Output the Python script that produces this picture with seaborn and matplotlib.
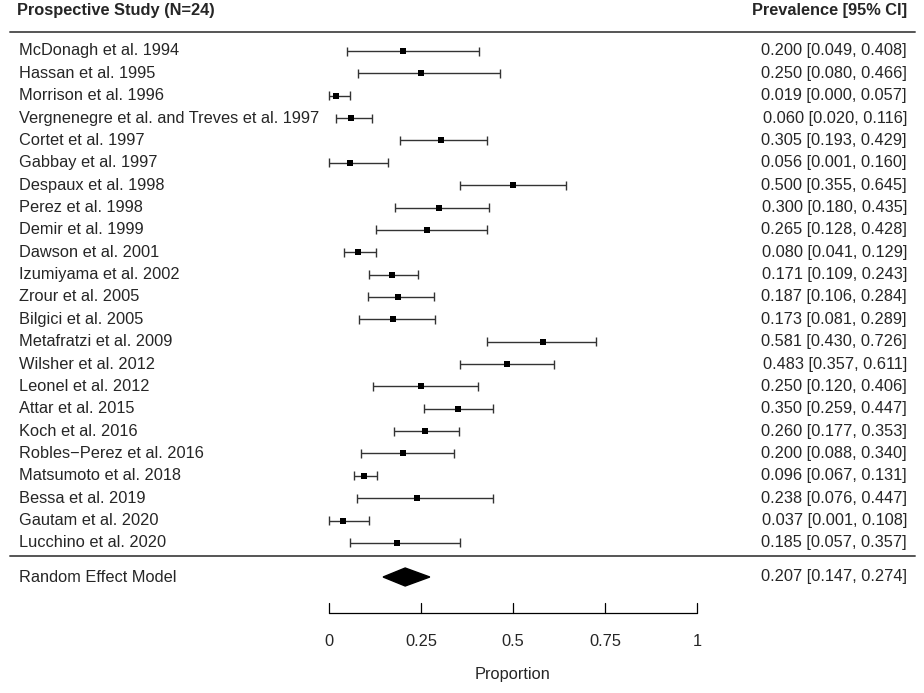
"""Forest plot of prevalence estimates from prospective studies."""

import matplotlib
matplotlib.use("Agg")
import matplotlib.pyplot as plt
import numpy as np
import pandas as pd
import seaborn as sns

studies = [
    "McDonagh et al. 1994", "Hassan et al. 1995", "Morrison et al. 1996",
    "Vergnenegre et al. and Treves et al. 1997", "Cortet et al. 1997",
    "Gabbay et al. 1997", "Despaux et al. 1998", "Perez et al. 1998",
    "Demir et al. 1999", "Dawson et al. 2001", "Izumiyama et al. 2002",
    "Zrour et al. 2005", "Bilgici et al. 2005", "Metafratzi et al. 2009",
    "Wilsher et al. 2012", "Leonel et al. 2012", "Attar et al. 2015",
    "Koch et al. 2016", "Robles\u2212Perez et al. 2016", "Matsumoto et al. 2018",
    "Bessa et al. 2019", "Gautam et al. 2020", "Lucchino et al. 2020",
]
estimate = [0.200, 0.250, 0.019, 0.060, 0.305, 0.056, 0.500, 0.300, 0.265,
            0.080, 0.171, 0.187, 0.173, 0.581, 0.483, 0.250, 0.350, 0.260,
            0.200, 0.096, 0.238, 0.037, 0.185]
ci_low = [0.049, 0.080, 0.000, 0.020, 0.193, 0.001, 0.355, 0.180, 0.128,
          0.041, 0.109, 0.106, 0.081, 0.430, 0.357, 0.120, 0.259, 0.177,
          0.088, 0.067, 0.076, 0.001, 0.057]
ci_high = [0.408, 0.466, 0.057, 0.116, 0.429, 0.160, 0.645, 0.435, 0.428,
           0.129, 0.243, 0.284, 0.289, 0.726, 0.611, 0.406, 0.447, 0.353,
           0.340, 0.131, 0.447, 0.108, 0.357]

pooled_label = "Random Effect Model"
pooled_est, pooled_low, pooled_high = 0.207, 0.147, 0.274

x_ticks = [0, 0.25, 0.5, 0.75, 1]
x_tick_labels = ["0", "0.25", "0.5", "0.75", "1"]

df = pd.DataFrame({"study": studies, "est": estimate, "lo": ci_low, "hi": ci_high})

# ---------------------------------------------------------------------------
# Layout (pixel based y, proportion based x)
# ---------------------------------------------------------------------------
W, H = 924, 693
X0_PX, X1_PX = 329, 697              # pixel position of proportion 0 and 1
scale = X1_PX - X0_PX
xmin = -X0_PX / scale
xmax = (W - X0_PX) / scale

def px_to_x(px):
    return (px - X0_PX) / scale

row_top, row_step = 51, 22.36
df["y"] = row_top + np.arange(len(df)) * row_step

sns.set_theme(style="white")
plt.rcParams["font.family"] = ["Liberation Sans", "DejaVu Sans"]

fig = plt.figure(figsize=(W / 100, H / 100), dpi=100)
ax = fig.add_axes([0, 0, 1, 1])
ax.set_xlim(xmin, xmax)
ax.set_ylim(H, 0)
ax.axis("off")

FS = 11.8
grey = "#555555"
line_col = "#333333"

# header
ax.text(px_to_x(17), 11, "Prospective Study (N=24)", fontsize=FS, fontweight="bold",
        ha="left", va="center")
ax.text(px_to_x(907), 11, "Prevalence [95% CI]", fontsize=FS, fontweight="bold",
        ha="right", va="center")
ax.plot([px_to_x(10), px_to_x(915)], [32, 32], color=grey, lw=1.4)

# study rows
cap = 4.5
ax.hlines(df["y"], df["lo"], df["hi"], color=line_col, lw=1.0)
ax.vlines(df["lo"], df["y"] - cap, df["y"] + cap, color=line_col, lw=1.0)
ax.vlines(df["hi"], df["y"] - cap, df["y"] + cap, color=line_col, lw=1.0)
sns.scatterplot(data=df, x="est", y="y", marker="s", s=20, color="black",
                edgecolor="black", linewidth=0, ax=ax, legend=False, zorder=3)
ax.set_xlabel("")
ax.set_ylabel("")

for _, r in df.iterrows():
    ax.text(px_to_x(19), r["y"], r["study"], fontsize=FS, ha="left", va="center")
    ax.text(px_to_x(907), r["y"], f"{r['est']:.3f} [{r['lo']:.3f}, {r['hi']:.3f}]",
            fontsize=FS, ha="right", va="center")

# separator and pooled estimate
ax.plot([px_to_x(10), px_to_x(915)], [556, 556], color=grey, lw=1.4)
y_pool = 577
ax.fill([pooled_low, pooled_est, pooled_high, pooled_est],
        [y_pool, y_pool - 9, y_pool, y_pool + 9], color="black")
ax.text(px_to_x(19), y_pool, pooled_label, fontsize=FS, ha="left", va="center")
ax.text(px_to_x(907), y_pool, f"{pooled_est:.3f} [{pooled_low:.3f}, {pooled_high:.3f}]",
        fontsize=FS, ha="right", va="center")

# x axis
y_axis = 613
ax.plot([x_ticks[0], x_ticks[-1]], [y_axis, y_axis], color="black", lw=0.9)
for t, lab in zip(x_ticks, x_tick_labels):
    ax.plot([t, t], [y_axis, y_axis - 10], color="black", lw=0.9)
    ax.text(t, 642, lab, fontsize=FS, ha="center", va="center")
ax.text(0.5, 675, "Proportion", fontsize=FS, ha="center", va="center")

plt.savefig("out.png", dpi=100)
plt.close()
